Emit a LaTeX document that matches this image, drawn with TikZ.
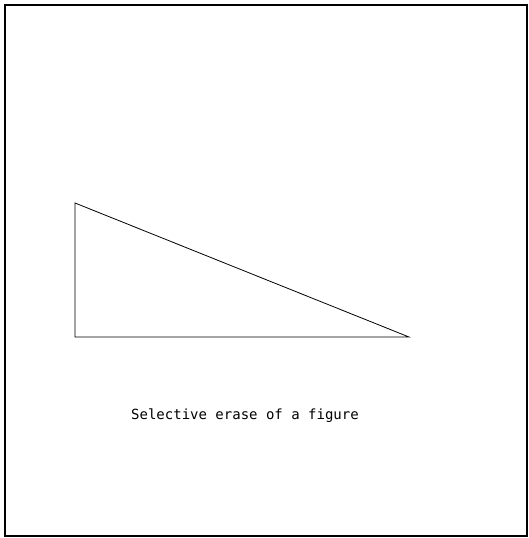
\documentclass[tikz,border=0pt]{standalone}
\usepackage{fontspec}
\newfontfamily\plotfont{DejaVu Sans Mono}
\begin{document}
\begin{tikzpicture}[x=1pt,y=-1pt,
  frame/.style={draw=black,line width=1.8pt},
  edge/.style={draw=black,line width=0.8pt,line join=miter},
  caption/.style={font=\plotfont\fontsize{14}{16}\selectfont,inner sep=0pt,anchor=center}]
\useasboundingbox (0,0) rectangle (529,538);
\draw[frame] (5,5) rectangle (527,536);
\coordinate (A) at (75,203);
\coordinate (B) at (75,337);
\coordinate (C) at (409,337);
\draw[edge] (A) -- (B) -- (C) -- cycle;
\node[caption] (cap) at (245,416) {Selective erase of a figure};
\end{tikzpicture}
\end{document}
